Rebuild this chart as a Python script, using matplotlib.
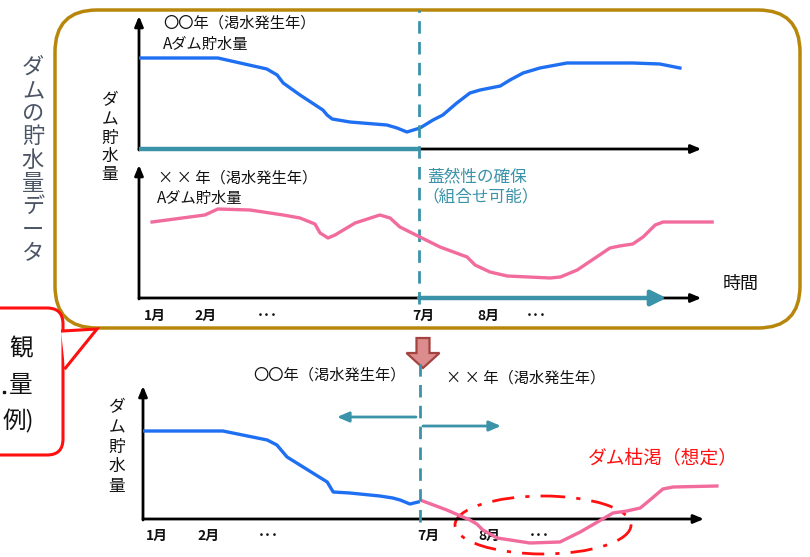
import matplotlib
matplotlib.use("Agg")
import matplotlib.pyplot as plt
from matplotlib.patches import FancyBboxPatch, Polygon, Ellipse

plt.rcParams['font.family'] = ['Noto Sans CJK JP', 'DejaVu Sans']

# ---------------- data (time in months from origin, storage in arbitrary units) -------------
top_t = [0.02, 1.69, 2.74, 2.96, 3.09, 3.24, 3.45, 3.94, 4.03, 4.14, 4.52, 5.31, 5.53, 5.74,
         6.02, 6.30, 6.51, 6.81, 7.09, 7.31, 7.74, 7.95, 8.23, 8.59, 9.17, 10.58, 11.16, 11.59]
top_v = [91, 91, 80, 74, 66, 61, 54, 39, 34, 30, 27, 24, 21, 17,
         21, 29, 34, 46, 56, 59, 63, 69, 76, 81, 86, 86, 85, 81]

mid_t = [0.28, 1.41, 1.69, 2.38, 3.09, 3.45, 3.77, 3.88, 4.05, 4.20, 4.63, 5.16, 5.38, 5.59,
         6.02, 6.45, 7.03, 7.20, 7.52, 7.89, 8.81, 9.03, 9.39, 10.09, 10.30, 10.58, 10.80,
         11.06, 11.23, 12.28]
mid_v = [76, 83, 89, 88, 83, 80, 74, 65, 60, 63, 75, 83, 80, 71,
         61, 51, 41, 33, 26, 22, 20, 21, 28, 50, 52, 54, 61, 73, 76, 76]

bot_blue_t = [0.02, 1.73, 2.69, 2.90, 3.12, 3.99, 4.12, 4.48, 5.13, 5.41, 5.57, 5.78, 5.96]
bot_blue_v = [88, 88, 79, 74, 62, 37, 27, 26, 23, 21, 19, 15, 17]

bot_pink_t = [6.06, 6.58, 7.08, 7.23, 7.36, 7.67, 8.38, 9.03, 9.47, 10.18, 10.48, 10.77,
              10.98, 11.26, 11.48, 12.43]
bot_pink_v = [18, 9, -1, -5, -11, -19, -24, -23, -13, 6, 8, 11, 19, 30, 32, 33]

tick_labels = ["1月", "2月", "･･･", "7月", "8月", "･･･"]
tick_pos_top = [0.34, 1.42, 2.76, 6.10, 7.48, 8.52]
tick_pos_bot = [0.30, 1.41, 2.71, 6.18, 7.51, 8.59]

BLUE = "#1f6ff2"
PINK = "#f26b9d"
TEAL = "#3a93a8"
GOLD = "#b8860b"
RED = "#ff1010"

W, H = 810, 557
fig = plt.figure(figsize=(W / 100, H / 100), dpi=100)

# overlay axis in pixel coordinates for decorations
ov = fig.add_axes([0, 0, 1, 1])
ov.set_xlim(0, W)
ov.set_ylim(H, 0)
ov.axis('off')


def panel(ox, oy, sx, x0, x1, y0, y1):
    left = (ox + x0 * sx) / W
    right = (ox + x1 * sx) / W
    top_px = oy - y1
    bot_px = oy - y0
    ax = fig.add_axes([left, 1 - bot_px / H, right - left, (bot_px - top_px) / H])
    ax.set_xlim(x0, x1)
    ax.set_ylim(y0, y1)
    ax.axis('off')
    ax.patch.set_alpha(0)
    return ax


def axes_arrows(ax, xend, ytop, teal_upto=None, teal_arrow=None):
    ax.annotate('', xy=(0, ytop), xytext=(0, -1),
                arrowprops=dict(arrowstyle='-|>,head_length=0.6,head_width=0.25',
                                color='k', lw=2, shrinkA=0, shrinkB=0), annotation_clip=False)
    ax.annotate('', xy=(xend, 0), xytext=(0, 0),
                arrowprops=dict(arrowstyle='-|>,head_length=0.6,head_width=0.25',
                                color='k', lw=2, shrinkA=0, shrinkB=0), annotation_clip=False)
    if teal_upto is not None:
        ax.plot([0, teal_upto], [0, 0], color=TEAL, lw=3.2, solid_capstyle='butt', zorder=3)
    if teal_arrow is not None:
        ax.annotate('', xy=(teal_arrow[1], 0), xytext=(teal_arrow[0], 0),
                    arrowprops=dict(arrowstyle='-|>,head_length=0.9,head_width=0.45',
                                    color=TEAL, lw=3.2, shrinkA=0, shrinkB=0),
                    annotation_clip=False, zorder=4)


# golden rounded box
ov.add_patch(FancyBboxPatch((55, 10), 745, 318, boxstyle="round,pad=0,rounding_size=42",
                            fc='white', ec=GOLD, lw=2.5, zorder=1))

# red speech bubble (cut at left)
ov.add_patch(FancyBboxPatch((-40, 308), 103, 147, boxstyle="round,pad=0,rounding_size=16",
                            fc='white', ec=RED, lw=2.2, zorder=2))
ov.add_patch(Polygon([(61, 331), (97, 329), (65, 368)], closed=True, fc='white', ec='none', zorder=3))
ov.plot([62.5, 97, 65.5], [331, 329, 368], color=RED, lw=2.2, zorder=4, solid_joinstyle='miter')
ov.text(33, 349, "観", ha='right', va='center', fontsize=17, color='#111111', zorder=5)
ov.text(33, 386, "量", ha='right', va='center', fontsize=17, color='#111111', zorder=5)
ov.text(34, 421, "例)", ha='right', va='center', fontsize=17, color='#111111', zorder=5)
ov.plot([4], [392], marker='s', ms=2, color='#111111', zorder=5)

# big vertical label
big = "ダムの貯水量データ"
for i, ch in enumerate(big):
    ov.text(33, 67 + i * 23.3, ch, ha='center', va='center', fontsize=16, color='#4b5565',
            zorder=5)

# vertical axis titles
for i, ch in enumerate("ダム貯水量"):
    ov.text(110, 101 + i * 18.5, ch, ha='center', va='center', fontsize=12, color='#111111', zorder=5)
    ov.text(117, 408 + i * 19.5, ch, ha='center', va='center', fontsize=12, color='#111111', zorder=5)

# panel axes
ax_top = panel(139, 149, 46.67, 0, 13, -5, 135)
ax_mid = panel(139, 298, 46.67, 0, 13, -5, 135)
ax_bot = panel(143, 519, 46.17, 0, 13, -40, 135)

axes_arrows(ax_top, 12.05, 133, teal_upto=6.0)
axes_arrows(ax_mid, 12.05, 133, teal_arrow=(6.0, 11.3))
axes_arrows(ax_bot, 12.15, 133)

ax_top.plot(top_t, top_v, color=BLUE, lw=2.4, zorder=5, solid_joinstyle='round')
ax_mid.plot(mid_t, mid_v, color=PINK, lw=2.4, zorder=5, solid_joinstyle='round')
ax_bot.plot(bot_blue_t, bot_blue_v, color=BLUE, lw=2.4, zorder=5, solid_joinstyle='round')
ax_bot.plot(bot_pink_t, bot_pink_v, color=PINK, lw=2.4, zorder=5, solid_joinstyle='round')

# dashed dividers
ax_top.plot([6.0, 6.0], [-155, 139], color=TEAL, lw=2, ls=(0, (4.5, 3)), clip_on=False, zorder=6)
ax_bot.plot([6.0, 6.0], [-3, 156], color=TEAL, lw=2, ls=(0, (4.5, 3)), clip_on=False, zorder=6)

# tick labels
for lab, p in zip(tick_labels, tick_pos_top):
    ax_mid.text(p, -18, lab, ha='center', va='center', fontsize=10, fontweight='bold',
                color='#111111', clip_on=False)
for lab, p in zip(tick_labels, tick_pos_bot):
    ax_bot.text(p, -17, lab, ha='center', va='center', fontsize=10, fontweight='bold',
                color='#111111', clip_on=False)

# texts
ov.text(163, 23, "〇〇年（渇水発生年）", ha='left', va='center', fontsize=11, color='#111111', zorder=5)
ov.text(163, 44, "Aダム貯水量", ha='left', va='center', fontsize=11, color='#111111', zorder=5)
ov.text(158, 178, "× × 年（渇水発生年）", ha='left', va='center', fontsize=11, color='#111111', zorder=5)
ov.text(157, 198, "Aダム貯水量", ha='left', va='center', fontsize=11, color='#111111', zorder=5)
ov.text(427, 177, "蓋然性の確保", ha='left', va='center', fontsize=12, color=TEAL, zorder=5)
ov.text(422, 197, "（組合せ可能）", ha='left', va='center', fontsize=12, color=TEAL, zorder=5)
ov.text(741, 284, "時間", ha='center', va='center', fontsize=13, color='#111111', zorder=5)

ov.text(253, 375, "〇〇年（渇水発生年）", ha='left', va='center', fontsize=11, color='#111111', zorder=5)
ov.text(446, 378, "× × 年（渇水発生年）", ha='left', va='center', fontsize=11, color='#111111', zorder=5)
ov.text(588, 459, "ダム枯渇（想定）", ha='left', va='center', fontsize=13.5, color=RED, zorder=5)

# teal arrows in bottom panel
ov.annotate('', xy=(337, 417), xytext=(416, 417),
            arrowprops=dict(arrowstyle='-|>,head_length=0.7,head_width=0.3', color=TEAL, lw=2,
                            shrinkA=0, shrinkB=0), zorder=5)
ov.annotate('', xy=(501, 426), xytext=(423, 426),
            arrowprops=dict(arrowstyle='-|>,head_length=0.7,head_width=0.3', color=TEAL, lw=2,
                            shrinkA=0, shrinkB=0), zorder=5)

# block down arrow
ov.add_patch(Polygon([(416.5, 338), (429.5, 338), (429.5, 353), (439.5, 353), (423, 368),
                      (406.5, 353), (416.5, 353)], closed=True, fc='#dc8c8c', ec='#a3433f',
                     lw=1.6, zorder=6))

# depletion ellipse
ov.add_patch(Ellipse((543, 525), 176, 58, fill=False, ec=RED, lw=2, ls=(0, (8, 4, 1.5, 4)), zorder=7))

fig.savefig("out.png", dpi=100)
